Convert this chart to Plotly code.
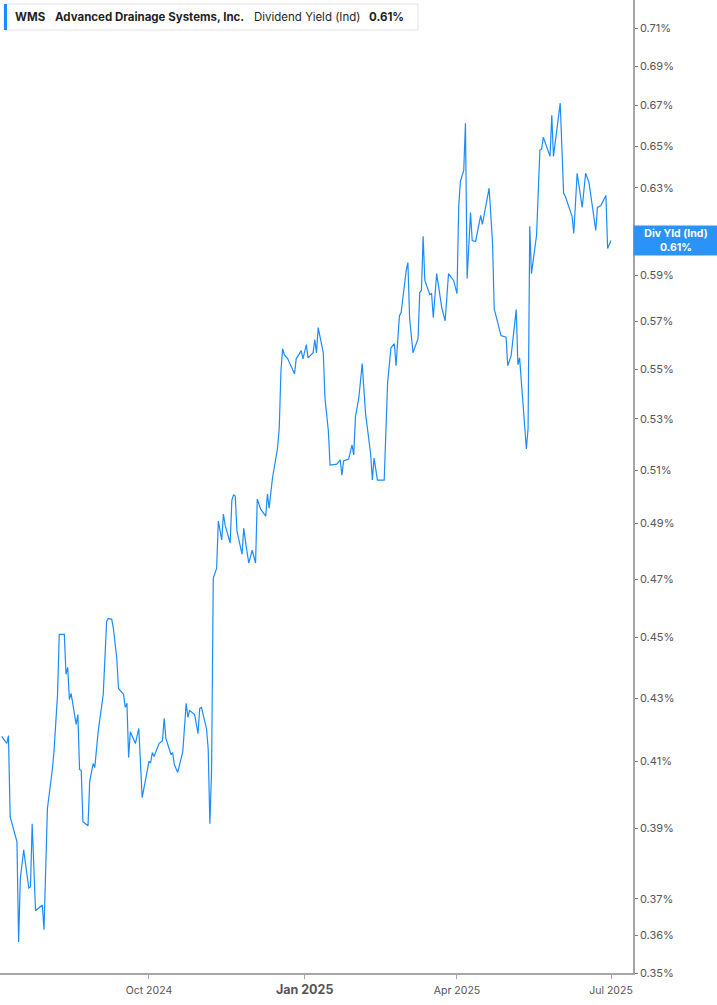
import math
import plotly.graph_objects as go

# WMS dividend yield (indicated), in percent
dates = [
    '2024-07-06', '2024-07-09', '2024-07-10', '2024-07-11', '2024-07-15', '2024-07-16', '2024-07-17',
    '2024-07-19', '2024-07-22', '2024-07-23', '2024-07-24', '2024-07-26', '2024-07-30', '2024-07-31',
    '2024-08-02', '2024-08-05', '2024-08-06', '2024-08-08', '2024-08-09', '2024-08-12', '2024-08-13',
    '2024-08-14', '2024-08-15', '2024-08-16', '2024-08-19', '2024-08-20', '2024-08-21', '2024-08-22',
    '2024-08-23', '2024-08-26', '2024-08-27', '2024-08-29', '2024-08-30', '2024-09-01', '2024-09-04',
    '2024-09-05', '2024-09-06', '2024-09-07', '2024-09-09', '2024-09-10', '2024-09-12', '2024-09-13',
    '2024-09-16', '2024-09-17', '2024-09-18', '2024-09-19', '2024-09-20', '2024-09-23', '2024-09-25',
    '2024-09-27', '2024-10-01', '2024-10-02', '2024-10-03', '2024-10-04', '2024-10-07', '2024-10-09',
    '2024-10-10', '2024-10-11', '2024-10-14', '2024-10-15', '2024-10-16', '2024-10-18', '2024-10-21',
    '2024-10-23', '2024-10-24', '2024-10-25', '2024-10-28', '2024-10-30', '2024-10-31', '2024-11-01',
    '2024-11-04', '2024-11-05', '2024-11-06', '2024-11-07', '2024-11-08', '2024-11-10', '2024-11-11',
    '2024-11-13', '2024-11-14', '2024-11-15', '2024-11-18', '2024-11-19', '2024-11-20', '2024-11-21',
    '2024-11-22', '2024-11-25', '2024-11-26', '2024-11-27', '2024-11-29', '2024-12-01', '2024-12-03',
    '2024-12-04', '2024-12-06', '2024-12-09', '2024-12-10', '2024-12-11', '2024-12-13', '2024-12-16',
    '2024-12-17', '2024-12-18', '2024-12-19', '2024-12-20', '2024-12-22', '2024-12-26', '2024-12-27',
    '2024-12-30', '2024-12-31', '2025-01-02', '2025-01-03', '2025-01-06', '2025-01-07', '2025-01-08',
    '2025-01-09', '2025-01-12', '2025-01-13', '2025-01-15', '2025-01-16', '2025-01-20', '2025-01-22',
    '2025-01-23', '2025-01-24', '2025-01-27', '2025-01-29', '2025-01-30', '2025-01-31', '2025-02-02',
    '2025-02-04', '2025-02-06', '2025-02-09', '2025-02-10', '2025-02-11', '2025-02-13', '2025-02-17',
    '2025-02-19', '2025-02-21', '2025-02-23', '2025-02-24', '2025-02-26', '2025-02-27', '2025-03-02',
    '2025-03-03', '2025-03-04', '2025-03-06', '2025-03-09', '2025-03-10', '2025-03-11', '2025-03-12',
    '2025-03-13', '2025-03-16', '2025-03-17', '2025-03-18', '2025-03-20', '2025-03-23', '2025-03-25',
    '2025-03-27', '2025-03-30', '2025-04-01', '2025-04-02', '2025-04-03', '2025-04-05', '2025-04-06',
    '2025-04-07', '2025-04-09', '2025-04-10', '2025-04-12', '2025-04-15', '2025-04-16', '2025-04-20',
    '2025-04-22', '2025-04-23', '2025-04-26', '2025-04-27', '2025-04-30', '2025-05-01', '2025-05-03',
    '2025-05-06', '2025-05-07', '2025-05-08', '2025-05-12', '2025-05-13', '2025-05-14', '2025-05-15',
    '2025-05-18', '2025-05-20', '2025-05-21', '2025-05-22', '2025-05-26', '2025-05-27', '2025-05-28',
    '2025-06-01', '2025-06-03', '2025-06-04', '2025-06-08', '2025-06-09', '2025-06-11', '2025-06-14',
    '2025-06-16', '2025-06-18', '2025-06-22', '2025-06-23', '2025-06-25', '2025-06-28', '2025-06-29',
    '2025-07-01',
]
div_yield = [
    0.4178, 0.4156, 0.4181, 0.3934, 0.3862, 0.3582, 0.3756,
    0.3838, 0.3730, 0.3733, 0.3914, 0.3667, 0.3683, 0.3615,
    0.3958, 0.4079, 0.4140, 0.4312, 0.4510, 0.4510, 0.4377,
    0.4400, 0.4295, 0.4315, 0.4216, 0.4247, 0.4076, 0.4073,
    0.3920, 0.3908, 0.4039, 0.4094, 0.4082, 0.4193, 0.4312,
    0.4463, 0.4554, 0.4564, 0.4561, 0.4530, 0.4430, 0.4331,
    0.4312, 0.4270, 0.4283, 0.4113, 0.4193, 0.4156, 0.4203,
    0.3991, 0.4100, 0.4097, 0.4128, 0.4116, 0.4156, 0.4165,
    0.4235, 0.4172, 0.4122, 0.4128, 0.4091, 0.4067, 0.4131,
    0.4283, 0.4238, 0.4260, 0.4247, 0.4187, 0.4267, 0.4270,
    0.4203, 0.4140, 0.3914, 0.4070, 0.4703, 0.4739, 0.4909,
    0.4840, 0.4935, 0.4894, 0.4829, 0.4987, 0.5006, 0.5002,
    0.4872, 0.4789, 0.4883, 0.4836, 0.4757, 0.4803, 0.4757,
    0.4991, 0.4953, 0.4927, 0.5009, 0.4957, 0.5070, 0.5185,
    0.5264, 0.5494, 0.5585, 0.5560, 0.5543, 0.5481, 0.5543,
    0.5577, 0.5543, 0.5602, 0.5547, 0.5568, 0.5623, 0.5568,
    0.5674, 0.5568, 0.5383, 0.5252, 0.5119, 0.5123, 0.5139,
    0.5081, 0.5135, 0.5142, 0.5197, 0.5158, 0.5307, 0.5383,
    0.5523, 0.5319, 0.5162, 0.5062, 0.5146, 0.5062, 0.5062,
    0.5444, 0.5589, 0.5606, 0.5514, 0.5725, 0.5738, 0.5922,
    0.5957, 0.5716, 0.5568, 0.5627, 0.5825, 0.5834, 0.6075,
    0.5878, 0.5816, 0.5820, 0.5716, 0.5908, 0.5760, 0.5703,
    0.5908, 0.5878, 0.5820, 0.6208, 0.6330, 0.6383, 0.6612,
    0.5886, 0.6185, 0.6056, 0.6052, 0.6171, 0.6130, 0.6298,
    0.6047, 0.5755, 0.5674, 0.5640, 0.5633, 0.5514, 0.5556,
    0.5751, 0.5518, 0.5547, 0.5181, 0.5260, 0.6121, 0.5908,
    0.6079, 0.6480, 0.6485, 0.6543, 0.6450, 0.6652, 0.6450,
    0.6712, 0.6274, 0.6260, 0.6167, 0.6088, 0.6369, 0.6208,
    0.6369, 0.6325, 0.6102, 0.6208, 0.6217, 0.6264, 0.6020,
    0.6056,
]

# 0.61% sits under the last-value label, so it is left out here
y_ticks = [0.35, 0.36, 0.37, 0.39, 0.41, 0.43, 0.45, 0.47, 0.49, 0.51,
           0.53, 0.55, 0.57, 0.59, 0.63, 0.65, 0.67, 0.69, 0.71]
x_ticks = ['2024-10-01', '2025-01-01', '2025-04-01', '2025-07-01']
x_tick_text = ['Oct 2024', '<b><span style="font-size:12.5px">Jan 2025</span></b>', 'Apr 2025', 'Jul 2025']

line_blue = '#1a8cff'
label_blue = '#2a93f5'
last_val = div_yield[-1]

# plot area is 633 x 973 px, used to place the header pieces
PW, PH = 633.0, 973.0

fig = go.Figure()
fig.add_trace(go.Scatter(
    x=dates, y=div_yield, mode='lines',
    line=dict(color=line_blue, width=1.2),
    showlegend=False, hoverinfo='skip'
))

# header box with ticker info
fig.add_shape(type='rect', xref='paper', yref='paper',
              x0=4 / PW, x1=418 / PW, y0=1 - 30 / PH, y1=1 - 4 / PH,
              line=dict(color='#e3e3e3', width=1), fillcolor='white', layer='above')
fig.add_shape(type='rect', xref='paper', yref='paper',
              x0=4 / PW, x1=7 / PW, y0=1 - 30 / PH, y1=1 - 4 / PH,
              line=dict(width=0), fillcolor=line_blue, layer='above')

header = [
    (13, '<b>WMS</b>'),
    (53, '<b>Advanced Drainage Systems, Inc.</b>'),
    (252, 'Dividend Yield (Ind)'),
    (367, '<b>0.61%</b>'),
]
for hx, txt in header:
    fig.add_annotation(x=hx / PW, y=1 - 17 / PH, xref='paper', yref='paper',
                       text=txt, showarrow=False, xanchor='left', yanchor='middle',
                       font=dict(family='Inter', size=11.5, color='#1f1f1f'))

# last value label on the right axis
fig.add_annotation(
    x=1, xref='paper', y=math.log10(last_val), yref='y',
    text='<b>Div Yld (Ind)</b><br><b>%.2f%%</b>' % last_val,
    showarrow=False, xanchor='left', yanchor='middle',
    bgcolor=label_blue, width=80, height=25, borderpad=2,
    font=dict(family='Inter', size=10.5, color='white'), align='center'
)

fig.update_layout(
    width=717, height=1005,
    margin=dict(l=0, r=84, t=0, b=32),
    paper_bgcolor='white', plot_bgcolor='white',
    font=dict(family='Inter', color='#555555'),
)
fig.update_xaxes(
    range=['2024-07-05', '2025-07-14'],
    tickvals=x_ticks, ticktext=x_tick_text,
    showgrid=False, zeroline=False,
    showline=True, linecolor='#a6a6a6', linewidth=1.5,
    ticks='outside', ticklen=4, tickcolor='#a6a6a6',
    ticklabelstandoff=3,
    tickfont=dict(family='Inter', size=10.5, color='#555555'),
)
fig.update_yaxes(
    type='log', side='right',
    range=[math.log10(0.35), math.log10(0.7251)],
    tickvals=y_ticks, ticktext=['%.2f%%' % v for v in y_ticks],
    showgrid=False, zeroline=False,
    showline=True, linecolor='#a6a6a6', linewidth=1.5,
    ticks='outside', ticklen=3, tickcolor='#777777',
    tickfont=dict(family='Inter', size=11, color='#555555'),
)

# drop the default page margin so the chart sits at the window's corner
fig.write_html('out.html', config={'displayModeBar': False},
               post_script="document.body.style.margin='0';")
